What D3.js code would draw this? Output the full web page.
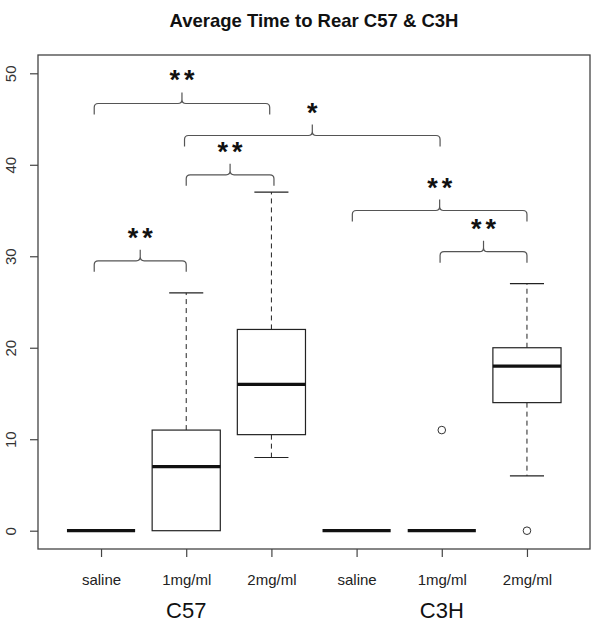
<!DOCTYPE html>
<html><head><meta charset="utf-8">
<script src="https://cdn.jsdelivr.net/npm/d3@7"></script>
<style>body{margin:0;background:#fff;} svg{display:block;font-family:"Liberation Sans",Arial,Helvetica,sans-serif;}</style>
</head><body>
<svg id="chart" width="595" height="625"></svg>
<script>
// ---- data ----
const categories = ["saline","1mg/ml","2mg/ml","saline","1mg/ml","2mg/ml"];
const strains = ["C57","C3H"];
const strainCenters = [2,5];
const whiskerLow = [0,0,8,0,0,6];
const q1 = [0,0,10.5,0,0,14];
const median = [0,7,16,0,0,18];
const q3 = [0,11,22,0,0,20];
const whiskerHigh = [0,26,37,0,0,27];
const outliers = [[],[],[],[],[11],[0]];
const yTicks = [0,10,20,30,40,50];
// significance brackets (positions in category units / y units)
const bracketFrom  = [0.92, 1.98, 2.0, 3.95, 4.98, 0.92];
const bracketTo    = [2.98, 4.98, 3.03, 6.0, 6.0, 2.0];
const bracketLevel = [46.7, 43.2, 38.9, 35.0, 30.5, 29.5];
const bracketLabel = ["**","*","**","**","**","**"];
const title = "Average Time to Rear C57 & C3H";

// ---- layout ----
const svg = d3.select("#chart");
const L=38, R=590, T=55, B=549;
const x = d3.scaleLinear().domain([0.26,6.74]).range([L,R]);
const y = d3.scaleLinear().domain([-2,52]).range([B,T]);
const unit = x(2)-x(1);
const boxW = 0.8*unit, capW = 0.4*unit;

svg.append("text").attr("x",(L+R)/2).attr("y",27).attr("text-anchor","middle")
  .attr("font-weight","bold").attr("font-size",18.5).attr("fill","#111").text(title);

// y axis
const ya = svg.append("g").attr("transform",`translate(${L},0)`)
  .call(d3.axisLeft(y).tickValues(yTicks).tickSize(8).tickSizeOuter(0).tickFormat(d3.format("d")));
ya.select(".domain").remove();
ya.selectAll(".tick line").attr("stroke","#444").attr("stroke-width",1.2);
ya.selectAll(".tick text").attr("x",0).attr("dy",0).attr("text-anchor","middle")
  .attr("transform","translate(-22.3,0) rotate(-90)").attr("font-size",15).attr("fill","#333")
  .attr("font-family","Liberation Sans, Arial, sans-serif");

// x axis
const xa = svg.append("g").attr("transform",`translate(0,${B})`)
  .call(d3.axisBottom(x).tickValues(d3.range(1,categories.length+1)).tickSize(8).tickSizeOuter(0)
    .tickFormat((d,i)=>categories[i]));
xa.select(".domain").remove();
xa.selectAll(".tick line").attr("stroke","#444").attr("stroke-width",1.2);
xa.selectAll(".tick text").attr("y",0).attr("dy",0).attr("transform","translate(0,36)")
  .attr("font-size",15).attr("fill","#222").attr("font-family","Liberation Sans, Arial, sans-serif");

// strain labels
svg.selectAll(".strain").data(strains).enter().append("text")
  .attr("x",(d,i)=>x(strainCenters[i])).attr("y",618).attr("text-anchor","middle")
  .attr("font-size",22).attr("fill","#111").text(d=>d);

// frame
svg.append("rect").attr("x",L).attr("y",T).attr("width",R-L).attr("height",B-T)
  .attr("fill","none").attr("stroke","#444").attr("stroke-width",1.3);

// boxes
const g = svg.append("g");
categories.forEach((c,i)=>{
  const cx = x(i+1);
  const col = "#222";
  if (whiskerHigh[i] > q3[i]) {
    g.append("line").attr("x1",cx).attr("x2",cx).attr("y1",y(q3[i])).attr("y2",y(whiskerHigh[i]))
      .attr("stroke",col).attr("stroke-width",1).attr("stroke-dasharray","5,4");
    g.append("line").attr("x1",cx-capW/2).attr("x2",cx+capW/2).attr("y1",y(whiskerHigh[i])).attr("y2",y(whiskerHigh[i]))
      .attr("stroke",col).attr("stroke-width",1.2);
  }
  if (whiskerLow[i] < q1[i]) {
    g.append("line").attr("x1",cx).attr("x2",cx).attr("y1",y(q1[i])).attr("y2",y(whiskerLow[i]))
      .attr("stroke",col).attr("stroke-width",1).attr("stroke-dasharray","5,4");
    g.append("line").attr("x1",cx-capW/2).attr("x2",cx+capW/2).attr("y1",y(whiskerLow[i])).attr("y2",y(whiskerLow[i]))
      .attr("stroke",col).attr("stroke-width",1.2);
  }
  if (q3[i] > q1[i]) {
    g.append("rect").attr("x",cx-boxW/2).attr("y",y(q3[i])).attr("width",boxW).attr("height",y(q1[i])-y(q3[i]))
      .attr("fill","#fff").attr("stroke",col).attr("stroke-width",1.2);
  }
  g.append("line").attr("x1",cx-boxW/2).attr("x2",cx+boxW/2).attr("y1",y(median[i])).attr("y2",y(median[i]))
    .attr("stroke","#111").attr("stroke-width",3.2);
  outliers[i].forEach(v=>{
    g.append("circle").attr("cx",cx).attr("cy",y(v)).attr("r",3.8)
      .attr("fill","none").attr("stroke","#333").attr("stroke-width",1);
  });
});

// brackets
const depth = 11, peak = 11, rr = 4;
bracketFrom.forEach((f,i)=>{
  const x1 = x(f), x2 = x(bracketTo[i]), xm = (x1+x2)/2, yb = y(bracketLevel[i]);
  const p = `M${x1},${yb+depth} L${x1},${yb+rr} Q${x1},${yb} ${x1+rr},${yb} L${xm-rr},${yb} Q${xm},${yb} ${xm},${yb-rr} L${xm},${yb-peak}` +
            ` M${xm},${yb-rr} Q${xm},${yb} ${xm+rr},${yb} L${x2-rr},${yb} Q${x2},${yb} ${x2},${yb+rr} L${x2},${yb+depth}`;
  svg.append("path").attr("d",p).attr("fill","none").attr("stroke","#555").attr("stroke-width",1.2);
  svg.append("text").attr("x",xm).attr("dx",2).attr("y",yb-peak-3).attr("text-anchor","middle")
    .attr("font-size",27).attr("font-weight","bold").attr("letter-spacing",4).attr("fill","#111").text(bracketLabel[i]);
});
</script>
</body></html>
